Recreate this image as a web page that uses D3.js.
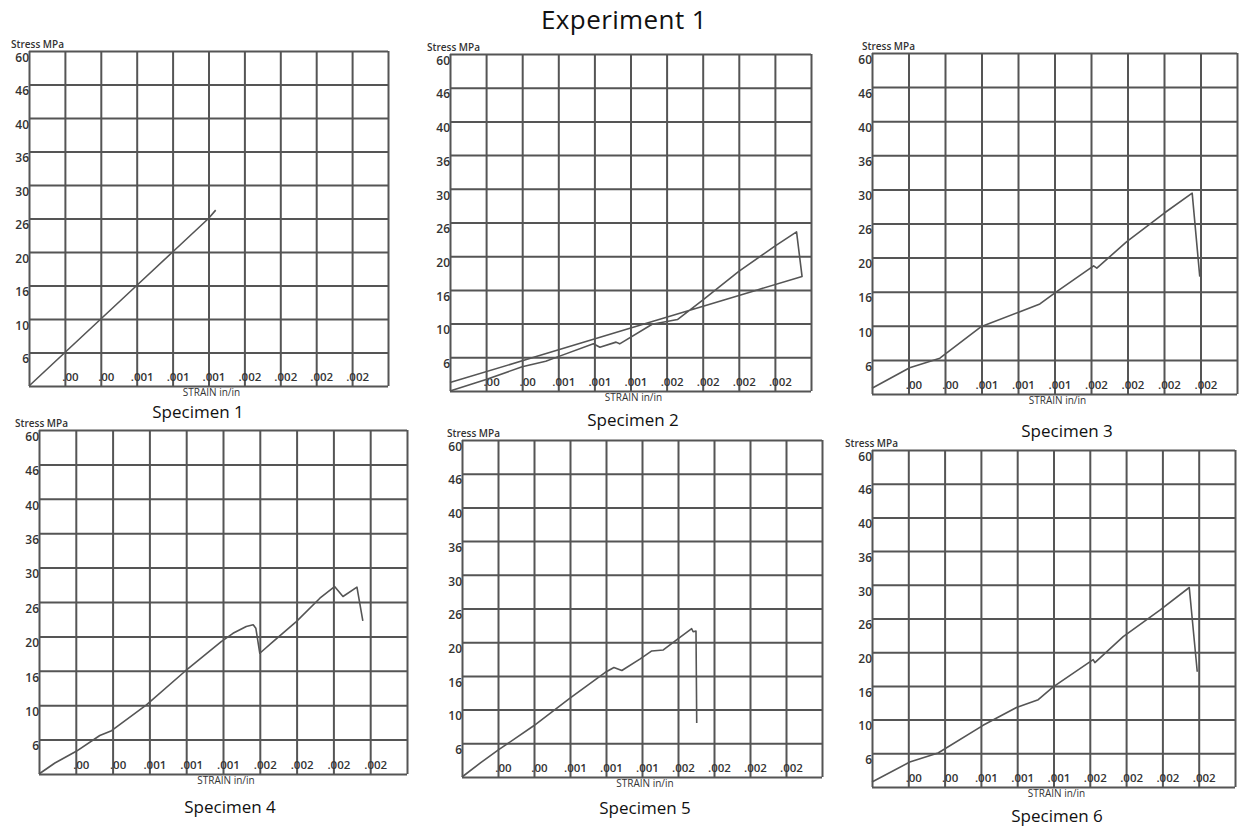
<!DOCTYPE html>
<html><head><meta charset="utf-8">
<script src="https://cdn.jsdelivr.net/npm/d3@7/dist/d3.min.js"></script>
<style>body{margin:0;background:#fff;}svg{display:block;}</style>
</head><body>
<svg id="c" width="1239" height="826"></svg>
<script>
// ---- data ----
const title = "Experiment 1";
const specimens = ["Specimen 1","Specimen 2","Specimen 3","Specimen 4","Specimen 5","Specimen 6"];
const stressTicks = [0, 6, 10, 16, 20, 26, 30, 36, 40, 46, 60];
const stressTickLabels = ["", "6", "10", "16", "20", "26", "30", "36", "40", "46", "60"];
const strainTicks = [0, 0.00025, 0.0005, 0.00075, 0.001, 0.00125, 0.0015, 0.00175, 0.002, 0.00225, 0.0025];
const strainTickLabels = ["", ".00", ".00", ".001", ".001", ".001", ".002", ".002", ".002", ".002", ""];

const strain1 = [0, 0.00025, 0.0005, 0.00075, 0.001, 0.00125, 0.0013];
const stress1 = [0, 6, 10, 16, 20, 26, 27];

const strain2 = [0, 0.00025, 0.0005, 0.000663, 0.00075, 0.000993, 0.001038, 0.00115, 0.001175, 0.0014, 0.001575, 0.00175, 0.002, 0.00225, 0.0024, 0.002438, 0.002128, 0.001355, 0.00058, 0];
const stress2 = [0, 2.04, 4.32, 5.28, 6.08, 7.6, 7.2, 7.8, 7.6, 9.92, 10.72, 14.2, 18.2, 21.8, 24.32, 17.6, 16, 10, 6, 1.5];

const strain3 = [0, 0.000258, 0.000465, 0.00075, 0.001, 0.00115, 0.001265, 0.001518, 0.00154, 0.001745, 0.002, 0.002193, 0.002245];
const stress3 = [1.02, 4.62, 6.2, 9.92, 12.34, 13.84, 16, 19.04, 18.76, 22.82, 27.2, 29.56, 17.76];

const strain4 = [0, 0.000108, 0.000253, 0.000413, 0.000493, 0.00073, 0.00099, 0.001238, 0.001318, 0.001408, 0.001455, 0.001473, 0.0015, 0.00159, 0.001748, 0.001908, 0.002008, 0.002065, 0.00216, 0.0022];
const stress4 = [0, 1.92, 3.96, 6.48, 7.04, 10.06, 15.88, 19.4, 20.54, 21.74, 22.04, 21.44, 18.04, 19.4, 22.58, 26.44, 27.8, 26.64, 27.72, 22.7];

const strain5 = [0, 0.000128, 0.000255, 0.000498, 0.00075, 0.000993, 0.001055, 0.00111, 0.001235, 0.001318, 0.001398, 0.00149, 0.001595, 0.001605, 0.001625, 0.00163];
const stress5 = [0, 2.52, 4.86, 8.08, 12.04, 16.4, 17.0, 16.64, 18, 18.96, 19.08, 20.42, 22.4, 21.86, 21.98, 8.4];

const strain6 = [0, 0.00026, 0.000455, 0.000765, 0.000995, 0.001145, 0.001248, 0.001523, 0.001535, 0.00173, 0.001983, 0.002185, 0.00224];
const stress6 = [0.9, 4.44, 6.04, 9.32, 12.16, 13.54, 15.82, 19.12, 18.76, 22.76, 27.0, 29.68, 17.68];

const strains = [strain1, strain2, strain3, strain4, strain5, strain6];
const stresses = [stress1, stress2, stress3, stress4, stress5, stress6];

// ---- layout (positions only) ----
const layout = [
  {l:29,  t:51,  r:388,  b:386, sx:11,  spx:198,  spy:418},
  {l:450, t:54,  r:811,  b:391, sx:427, spx:633,  spy:426},
  {l:872, t:53,  r:1237, b:394, sx:862, spx:1067, spy:437},
  {l:39,  t:430, r:407,  b:774, sx:15,  spx:230,  spy:813},
  {l:462, t:440, r:822,  b:777, sx:447, spx:645,  spy:814},
  {l:872, t:450, r:1235, b:787, sx:845, spx:1057, spy:822}
];

const svg = d3.select("#c");
const FONT = "'Open Sans', 'Noto Sans', sans-serif";

svg.append("text").attr("x", 624).attr("y", 29).attr("text-anchor","middle")
  .attr("font-family", FONT).attr("font-size", 26).attr("font-weight", 500)
  .attr("letter-spacing", 0.4).attr("fill","#111").text(title);

layout.forEach((L, i) => {
  const w = L.r - L.l, h = L.b - L.t;
  const x = d3.scaleLinear().domain([0, 0.0025]).range([0, w]);
  const y = d3.scaleLinear().domain(stressTicks)
    .range(stressTicks.map((d, k) => h - k * h / (stressTicks.length - 1)));
  const g = svg.append("g").attr("transform", `translate(${L.l},${L.t})`);

  // grid
  const gx = g.append("g").attr("transform", `translate(0,${h})`)
    .call(d3.axisBottom(x).tickValues(strainTicks).tickSize(-h).tickFormat(""));
  const gy = g.append("g")
    .call(d3.axisLeft(y).tickValues(stressTicks).tickSize(-w).tickFormat(""));
  [gx, gy].forEach(a => {
    a.select(".domain").remove();
    a.selectAll(".tick line").attr("stroke", "#555").attr("stroke-width", 2);
  });

  // y labels
  const yl = g.append("g")
    .call(d3.axisLeft(y).tickValues(stressTicks).tickSize(0).tickPadding(0)
      .tickFormat((d, k) => stressTickLabels[k]));
  yl.select(".domain").remove();
  yl.selectAll("text").attr("font-family", FONT).attr("font-size", 12)
    .attr("font-weight", 600).attr("fill", "#333").attr("dy", "0.85em");

  // x labels (inside, above bottom line)
  const xl = g.append("g").attr("transform", `translate(0,${h})`)
    .call(d3.axisBottom(x).tickValues(strainTicks).tickSize(0)
      .tickFormat((d, k) => strainTickLabels[k]));
  xl.select(".domain").remove();
  xl.selectAll("text").attr("font-family", FONT).attr("font-size", 11.5)
    .attr("font-weight", 600).attr("fill", "#333").attr("y", -5).attr("dy", 0).attr("dx", 5);

  // curve
  const pts = strains[i].map((s, k) => [s, stresses[i][k]]);
  g.append("path").datum(pts)
    .attr("fill", "none").attr("stroke", "#555").attr("stroke-width", 1.6)
    .attr("stroke-linejoin", "round")
    .attr("d", d3.line().x(d => x(d[0])).y(d => y(d[1])));

  // texts
  svg.append("text").attr("x", L.sx).attr("y", L.t - 3)
    .attr("font-family", FONT).attr("font-size", 10).attr("font-weight", 600)
    .attr("fill", "#333").text("Stress  MPa");
  svg.append("text").attr("x", L.l + w / 2 + 3).attr("y", L.b + 10).attr("text-anchor", "middle")
    .attr("font-family", FONT).attr("font-size", 10).attr("fill", "#333").text("STRAIN  in/in");
  svg.append("text").attr("x", L.spx).attr("y", L.spy).attr("text-anchor", "middle")
    .attr("font-family", FONT).attr("font-size", 17).attr("fill", "#111").text(specimens[i]);
});
</script>
</body></html>
